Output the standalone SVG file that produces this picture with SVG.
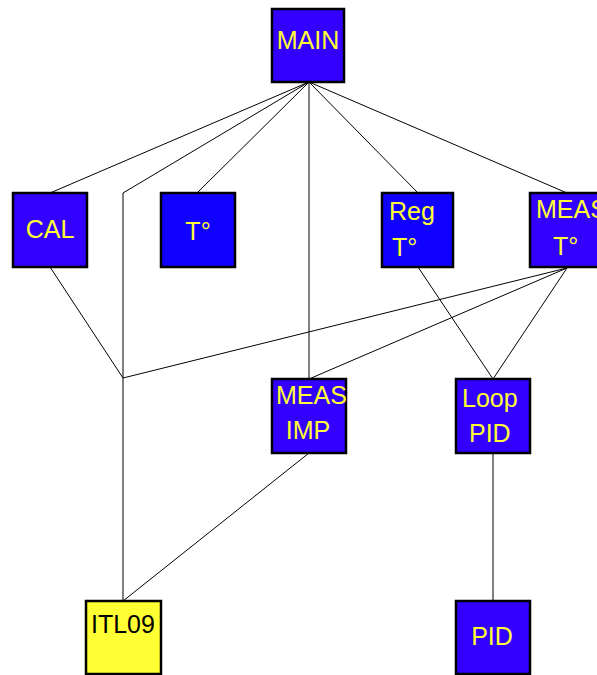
<svg xmlns="http://www.w3.org/2000/svg" width="597" height="675" viewBox="0 0 597 675">
<style>
.box{stroke:#000;stroke-width:2.5}
.v{fill:#3300ff}
.b{fill:#1000ff}
.y{fill:#ffff33}
text{font-family:"Liberation Sans",Arial,sans-serif;font-size:25px;fill:#ffff33}
.dk{fill:#000}
.c{stroke:#000;stroke-width:1;fill:none}
</style>
<rect width="597" height="675" fill="#fff"/>
<g id="connectors" class="c">
<line x1="309" y1="82" x2="50" y2="193"/>
<polyline points="309,82 123,193 123,601"/>
<line x1="309" y1="82" x2="197" y2="193"/>
<line x1="309" y1="82" x2="309" y2="379"/>
<line x1="309" y1="82" x2="418" y2="193"/>
<line x1="309" y1="82" x2="567" y2="193"/>
<polyline points="50,267 123,378 567,268"/>
<line x1="567" y1="268" x2="309" y2="379"/>
<line x1="567" y1="268" x2="493" y2="379"/>
<line x1="418" y1="267" x2="493" y2="379"/>
<line x1="493" y1="453" x2="493" y2="601"/>
<line x1="309" y1="453" x2="123" y2="601"/>
</g>
<g id="MAIN"><rect class="box v" x="272" y="9" width="72" height="73"/><text x="308" y="49" text-anchor="middle">MAIN</text></g>
<g id="CAL"><rect class="box v" x="13" y="193" width="74" height="74"/><text x="50" y="238" text-anchor="middle">CAL</text></g>
<g id="T"><rect class="box b" x="161" y="193" width="74" height="74"/><text x="198" y="240" text-anchor="middle">T°</text></g>
<g id="RegT"><rect class="box b" x="382" y="193" width="71" height="74"/><text x="389" y="220">Reg</text><text x="392" y="256">T°</text></g>
<g id="MEAST"><rect class="box v" x="530" y="193" width="74" height="74"/><text x="536" y="218">MEAS</text><text x="553" y="255">T°</text></g>
<g id="MEASIMP"><rect class="box v" x="272" y="379" width="74" height="74"/><text x="276" y="404">MEAS</text><text x="308" y="439" text-anchor="middle">IMP</text></g>
<g id="LoopPID"><rect class="box v" x="456" y="379" width="74" height="74"/><text x="462" y="407">Loop</text><text x="469" y="442">PID</text></g>
<g id="ITL09"><rect class="box" fill="#ffff33" x="86" y="601" width="75" height="73"/><text class="dk" x="91" y="633">ITL09</text></g>
<g id="PID"><rect class="box v" x="456" y="601" width="74" height="73"/><text x="492" y="645" text-anchor="middle">PID</text></g>
</svg>
